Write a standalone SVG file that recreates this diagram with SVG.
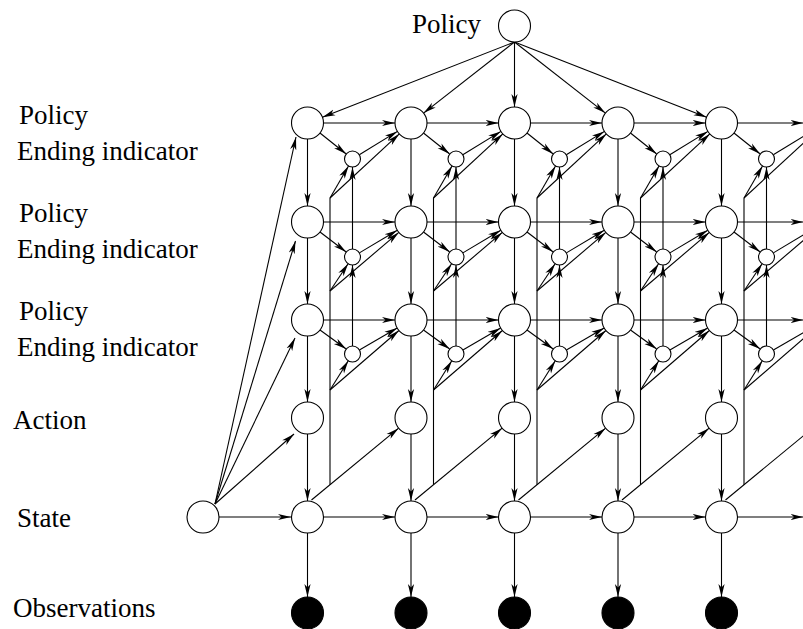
<svg xmlns="http://www.w3.org/2000/svg" width="803" height="629" viewBox="0 0 803 629">
<style>
.n{fill:#fff;stroke:#000;stroke-width:1.1}
.o{fill:#000;stroke:#000;stroke-width:1.1}
.c path{fill:none;stroke:#000;stroke-width:1.1}
.c path.a{marker-end:url(#ah)}
.t{font-family:"Liberation Serif","Times New Roman",serif;font-size:27px;fill:#000}
</style>
<defs>
<marker id="ah" markerUnits="userSpaceOnUse" markerWidth="13" markerHeight="8" viewBox="0 0 13 8" refX="13" refY="4" orient="auto">
<path d="M0,0.9L13,4L0,7.1L3.5,4z" fill="#000"/>
</marker>
</defs>
<rect width="803" height="629" fill="#fff"/>
<g id="labels">
<text class="t" x="412" y="33">Policy</text>
<text class="t" x="19" y="124">Policy</text>
<text class="t" x="17" y="160">Ending indicator</text>
<text class="t" x="19" y="222">Policy</text>
<text class="t" x="17" y="258">Ending indicator</text>
<text class="t" x="19" y="320">Policy</text>
<text class="t" x="17" y="356">Ending indicator</text>
<text class="t" x="13" y="429">Action</text>
<text class="t" x="17" y="527">State</text>
<text class="t" x="13" y="617">Observations</text>
</g>
<g id="connectors" class="c">
<g id="top-edges">
<path class="a" d="M514.5,42L322.4,117.2"/>
<path class="a" d="M514.5,42L423.6,113.1"/>
<path class="a" d="M514.5,42L514.5,107"/>
<path class="a" d="M514.5,42L605.4,113.1"/>
<path class="a" d="M514.5,42L706.6,117.2"/>
</g>
<g id="init-edges">
<path class="a" d="M215,504L296,137"/>
<path class="a" d="M215,504L295.5,241"/>
<path class="a" d="M215,504L295,338"/>
<path class="a" d="M215,504L294,434"/>
<path class="a" d="M219,517L291,517"/>
</g>
<g id="col1-edges" transform="translate(307.5,0)">
<path class="a" d="M16,123H87.5"/><path class="a" d="M16,222H87.5"/><path class="a" d="M16,320H87.5"/><path class="a" d="M16,517H87.5"/>
<path class="a" d="M12.5,133L38.7,154"/><path class="a" d="M12.5,232L38.7,252"/><path class="a" d="M12.5,330L38.7,349"/>
<path class="a" d="M51.8,154.8L89.9,131.4"/><path class="a" d="M51.9,252.9L89.8,230.2"/><path class="a" d="M51.9,350L89.7,328"/>
<path class="a" d="M22.5,198L41,165.9"/><path class="a" d="M22.5,291L40.6,263.7"/><path class="a" d="M22.5,390L40.8,360.8"/>
<path class="a" d="M22.5,198L91.8,133.9"/><path class="a" d="M22.5,291L91.3,232.4"/><path class="a" d="M22.5,390L91.4,330.5"/>
<path class="a" d="M45,249V167"/><path class="a" d="M45,346V265"/>
<path d="M22.5,198V484.8"/><path class="a" d="M4,500L91.1,428.2"/>
<path class="a" d="M0,139V206"/><path class="a" d="M0,238V304"/><path class="a" d="M0,336V402"/><path class="a" d="M0,434V501"/><path class="a" d="M0,533V597"/>
</g>
<g id="col2-edges" transform="translate(411,0)">
<path class="a" d="M16,123H87.5"/><path class="a" d="M16,222H87.5"/><path class="a" d="M16,320H87.5"/><path class="a" d="M16,517H87.5"/>
<path class="a" d="M12.5,133L38.7,154"/><path class="a" d="M12.5,232L38.7,252"/><path class="a" d="M12.5,330L38.7,349"/>
<path class="a" d="M51.8,154.8L89.9,131.4"/><path class="a" d="M51.9,252.9L89.8,230.2"/><path class="a" d="M51.9,350L89.7,328"/>
<path class="a" d="M22.5,198L41,165.9"/><path class="a" d="M22.5,291L40.6,263.7"/><path class="a" d="M22.5,390L40.8,360.8"/>
<path class="a" d="M22.5,198L91.8,133.9"/><path class="a" d="M22.5,291L91.3,232.4"/><path class="a" d="M22.5,390L91.4,330.5"/>
<path class="a" d="M45,249V167"/><path class="a" d="M45,346V265"/>
<path d="M22.5,198V484.8"/><path class="a" d="M4,500L91.1,428.2"/>
<path class="a" d="M0,139V206"/><path class="a" d="M0,238V304"/><path class="a" d="M0,336V402"/><path class="a" d="M0,434V501"/><path class="a" d="M0,533V597"/>
</g>
<g id="col3-edges" transform="translate(514.5,0)">
<path class="a" d="M16,123H87.5"/><path class="a" d="M16,222H87.5"/><path class="a" d="M16,320H87.5"/><path class="a" d="M16,517H87.5"/>
<path class="a" d="M12.5,133L38.7,154"/><path class="a" d="M12.5,232L38.7,252"/><path class="a" d="M12.5,330L38.7,349"/>
<path class="a" d="M51.8,154.8L89.9,131.4"/><path class="a" d="M51.9,252.9L89.8,230.2"/><path class="a" d="M51.9,350L89.7,328"/>
<path class="a" d="M22.5,198L41,165.9"/><path class="a" d="M22.5,291L40.6,263.7"/><path class="a" d="M22.5,390L40.8,360.8"/>
<path class="a" d="M22.5,198L91.8,133.9"/><path class="a" d="M22.5,291L91.3,232.4"/><path class="a" d="M22.5,390L91.4,330.5"/>
<path class="a" d="M45,249V167"/><path class="a" d="M45,346V265"/>
<path d="M22.5,198V484.8"/><path class="a" d="M4,500L91.1,428.2"/>
<path class="a" d="M0,139V206"/><path class="a" d="M0,238V304"/><path class="a" d="M0,336V402"/><path class="a" d="M0,434V501"/><path class="a" d="M0,533V597"/>
</g>
<g id="col4-edges" transform="translate(618,0)">
<path class="a" d="M16,123H87.5"/><path class="a" d="M16,222H87.5"/><path class="a" d="M16,320H87.5"/><path class="a" d="M16,517H87.5"/>
<path class="a" d="M12.5,133L38.7,154"/><path class="a" d="M12.5,232L38.7,252"/><path class="a" d="M12.5,330L38.7,349"/>
<path class="a" d="M51.8,154.8L89.9,131.4"/><path class="a" d="M51.9,252.9L89.8,230.2"/><path class="a" d="M51.9,350L89.7,328"/>
<path class="a" d="M22.5,198L41,165.9"/><path class="a" d="M22.5,291L40.6,263.7"/><path class="a" d="M22.5,390L40.8,360.8"/>
<path class="a" d="M22.5,198L91.8,133.9"/><path class="a" d="M22.5,291L91.3,232.4"/><path class="a" d="M22.5,390L91.4,330.5"/>
<path class="a" d="M45,249V167"/><path class="a" d="M45,346V265"/>
<path d="M22.5,198V484.8"/><path class="a" d="M4,500L91.1,428.2"/>
<path class="a" d="M0,139V206"/><path class="a" d="M0,238V304"/><path class="a" d="M0,336V402"/><path class="a" d="M0,434V501"/><path class="a" d="M0,533V597"/>
</g>
<g id="col5-edges" transform="translate(721.5,0)">
<path class="a" d="M16,123H82"/><path class="a" d="M16,222H82"/><path class="a" d="M16,320H82"/><path class="a" d="M16,517H82"/>
<path class="a" d="M12.5,133L38.7,154"/><path class="a" d="M12.5,232L38.7,252"/><path class="a" d="M12.5,330L38.7,349"/>
<path d="M51.8,154.8L89.9,131.4"/><path d="M51.9,252.9L89.8,230.2"/><path d="M51.9,350L89.7,328"/>
<path class="a" d="M22.5,198L41,165.9"/><path class="a" d="M22.5,291L40.6,263.7"/><path class="a" d="M22.5,390L40.8,360.8"/>
<path d="M22.5,198L91.8,133.9"/><path d="M22.5,291L91.3,232.4"/><path d="M22.5,390L91.4,330.5"/>
<path class="a" d="M45,249V167"/><path class="a" d="M45,346V265"/>
<path d="M22.5,198V484.8"/><path d="M4,500L91.1,428.2"/>
<path class="a" d="M0,139V206"/><path class="a" d="M0,238V304"/><path class="a" d="M0,336V402"/><path class="a" d="M0,434V501"/><path class="a" d="M0,533V597"/>
</g>
</g>
<g id="nodes">
<g id="policy-top"><circle class="n" cx="514.5" cy="26" r="16"/></g>
<g id="state-init"><circle class="n" cx="203" cy="517" r="16"/></g>
<g id="p1-1"><circle class="n" cx="307.5" cy="123" r="16"/></g>
<g id="p2-1"><circle class="n" cx="307.5" cy="222" r="16"/></g>
<g id="p3-1"><circle class="n" cx="307.5" cy="320" r="16"/></g>
<g id="e1-1"><circle class="n" cx="352.5" cy="159" r="8"/></g>
<g id="e2-1"><circle class="n" cx="352.5" cy="257" r="8"/></g>
<g id="e3-1"><circle class="n" cx="352.5" cy="354" r="8"/></g>
<g id="a-1"><circle class="n" cx="307.5" cy="418" r="16"/></g>
<g id="s-1"><circle class="n" cx="307.5" cy="517" r="16"/></g>
<g id="o-1"><circle class="o" cx="307.5" cy="613" r="16"/></g>
<g id="p1-2"><circle class="n" cx="411" cy="123" r="16"/></g>
<g id="p2-2"><circle class="n" cx="411" cy="222" r="16"/></g>
<g id="p3-2"><circle class="n" cx="411" cy="320" r="16"/></g>
<g id="e1-2"><circle class="n" cx="456" cy="159" r="8"/></g>
<g id="e2-2"><circle class="n" cx="456" cy="257" r="8"/></g>
<g id="e3-2"><circle class="n" cx="456" cy="354" r="8"/></g>
<g id="a-2"><circle class="n" cx="411" cy="418" r="16"/></g>
<g id="s-2"><circle class="n" cx="411" cy="517" r="16"/></g>
<g id="o-2"><circle class="o" cx="411" cy="613" r="16"/></g>
<g id="p1-3"><circle class="n" cx="514.5" cy="123" r="16"/></g>
<g id="p2-3"><circle class="n" cx="514.5" cy="222" r="16"/></g>
<g id="p3-3"><circle class="n" cx="514.5" cy="320" r="16"/></g>
<g id="e1-3"><circle class="n" cx="559.5" cy="159" r="8"/></g>
<g id="e2-3"><circle class="n" cx="559.5" cy="257" r="8"/></g>
<g id="e3-3"><circle class="n" cx="559.5" cy="354" r="8"/></g>
<g id="a-3"><circle class="n" cx="514.5" cy="418" r="16"/></g>
<g id="s-3"><circle class="n" cx="514.5" cy="517" r="16"/></g>
<g id="o-3"><circle class="o" cx="514.5" cy="613" r="16"/></g>
<g id="p1-4"><circle class="n" cx="618" cy="123" r="16"/></g>
<g id="p2-4"><circle class="n" cx="618" cy="222" r="16"/></g>
<g id="p3-4"><circle class="n" cx="618" cy="320" r="16"/></g>
<g id="e1-4"><circle class="n" cx="663" cy="159" r="8"/></g>
<g id="e2-4"><circle class="n" cx="663" cy="257" r="8"/></g>
<g id="e3-4"><circle class="n" cx="663" cy="354" r="8"/></g>
<g id="a-4"><circle class="n" cx="618" cy="418" r="16"/></g>
<g id="s-4"><circle class="n" cx="618" cy="517" r="16"/></g>
<g id="o-4"><circle class="o" cx="618" cy="613" r="16"/></g>
<g id="p1-5"><circle class="n" cx="721.5" cy="123" r="16"/></g>
<g id="p2-5"><circle class="n" cx="721.5" cy="222" r="16"/></g>
<g id="p3-5"><circle class="n" cx="721.5" cy="320" r="16"/></g>
<g id="e1-5"><circle class="n" cx="766.5" cy="159" r="8"/></g>
<g id="e2-5"><circle class="n" cx="766.5" cy="257" r="8"/></g>
<g id="e3-5"><circle class="n" cx="766.5" cy="354" r="8"/></g>
<g id="a-5"><circle class="n" cx="721.5" cy="418" r="16"/></g>
<g id="s-5"><circle class="n" cx="721.5" cy="517" r="16"/></g>
<g id="o-5"><circle class="o" cx="721.5" cy="613" r="16"/></g>
</g>
</svg>
